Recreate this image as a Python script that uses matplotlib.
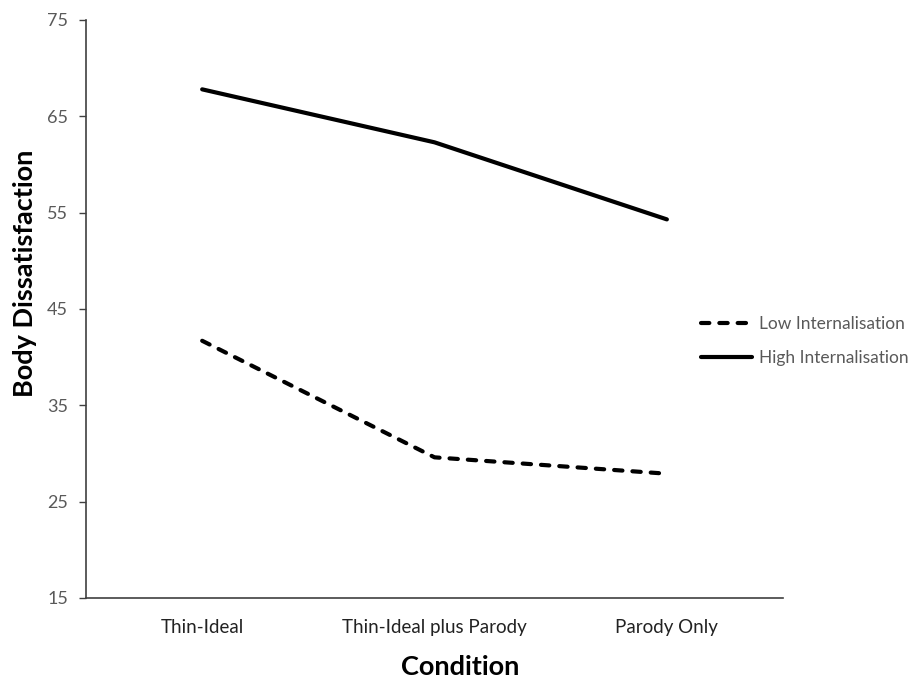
import matplotlib
matplotlib.use("Agg")
import matplotlib.pyplot as plt

# data
conditions = ["Thin-Ideal", "Thin-Ideal plus Parody", "Parody Only"]
low_internalisation = [41.7, 29.6, 27.9]
high_internalisation = [67.8, 62.3, 54.3]
y_ticks = [15, 25, 35, 45, 55, 65, 75]

plt.rcParams['font.family'] = ['Lato', 'DejaVu Sans']

fig = plt.figure(figsize=(9.12, 6.82), dpi=100)
ax = fig.add_axes([0.0943, 0.1232, 0.7643, 0.8475])

x = list(range(len(conditions)))
ax.plot(x, low_internalisation, color='black', linewidth=3,
        linestyle=(0, (2, 2.4)), dash_capstyle='round',
        label='Low Internalisation')
ax.plot(x, high_internalisation, color='black', linewidth=3,
        solid_capstyle='round', label='High Internalisation')

ax.set_xlim(-0.5, len(conditions) - 0.5)
ax.set_ylim(15, 75)
ax.set_yticks(y_ticks)
ax.set_xticks(x)
ax.set_xticklabels(conditions, fontsize=13.5, color='#222222')
ax.tick_params(axis='x', length=0, pad=15)
ax.tick_params(axis='y', length=5, width=1, color='#404040',
               labelsize=13, labelcolor='#595959', pad=8)

for side in ['top', 'right']:
    ax.spines[side].set_visible(False)
for side in ['left', 'bottom']:
    ax.spines[side].set_color('#404040')
    ax.spines[side].set_linewidth(1.2)

ax.set_ylabel('Body Dissatisfaction', fontsize=19.5, fontweight='bold')
ax.yaxis.set_label_coords(-0.071, 0.562)
ax.set_xlabel('Condition', fontsize=19.5, fontweight='bold')
ax.xaxis.set_label_coords(0.537, -0.098)

leg = fig.legend(loc='center left', bbox_to_anchor=(0.752, 0.5),
                 frameon=False, fontsize=12.5, handlelength=2.9,
                 handletextpad=0.4, labelspacing=1.0)
for t in leg.get_texts():
    t.set_color('#595959')

fig.savefig('out.png', dpi=100)
